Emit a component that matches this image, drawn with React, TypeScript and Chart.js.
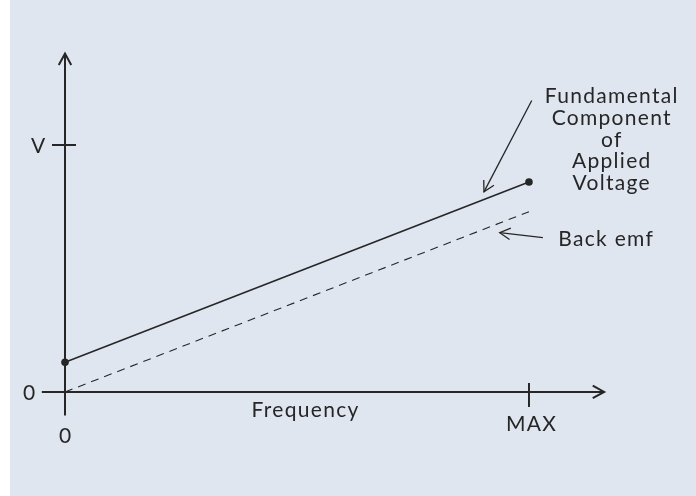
import React, { useEffect, useRef } from "react";
import { Chart, registerables } from "chart.js";

Chart.register(...registerables);

const frequency = [0, 1]; // 0 .. MAX
const appliedVoltage = [0.12, 0.85];
const backEmf = [0, 0.73];
const xTickValues = [0, 1];
const xTickLabels = ["0", "MAX"];
const yTickValues = [0, 1];
const yTickLabels = ["0", "V"];
const xAxisTitle = "Frequency";
const appliedLabel = ["Fundamental", "Component", "of", "Applied", "Voltage"];
const backEmfLabel = "Back emf";

const INK = "#262626";
const BG = "#e0e6f0";
const FONT = "21px Lato, 'Open Sans', sans-serif";

function arrowHead(ctx: CanvasRenderingContext2D, x1: number, y1: number, x2: number, y2: number, len: number) {
  const a = Math.atan2(y2 - y1, x2 - x1);
  const s = 0.5;
  ctx.beginPath();
  ctx.moveTo(x2 - len * Math.cos(a - s), y2 - len * Math.sin(a - s));
  ctx.lineTo(x2, y2);
  ctx.lineTo(x2 - len * Math.cos(a + s), y2 - len * Math.sin(a + s));
  ctx.stroke();
}

function line(ctx: CanvasRenderingContext2D, x1: number, y1: number, x2: number, y2: number) {
  ctx.beginPath();
  ctx.moveTo(x1, y1);
  ctx.lineTo(x2, y2);
  ctx.stroke();
}

const bgPlugin = {
  id: "bg",
  beforeDraw(chart: any) {
    const ctx = chart.ctx;
    ctx.save();
    ctx.fillStyle = "#ffffff";
    ctx.fillRect(0, 0, chart.width, chart.height);
    ctx.fillStyle = BG;
    ctx.fillRect(10, 0, chart.width - 10, chart.height);
    ctx.restore();
  },
};

const axesPlugin = {
  id: "axesDiagram",
  afterDatasetsDraw(chart: any) {
    const ctx: any = chart.ctx;
    const xs = chart.scales.x;
    const ys = chart.scales.y;
    const x0 = xs.getPixelForValue(0);
    const y0 = ys.getPixelForValue(0);
    ctx.save();
    ctx.strokeStyle = INK;
    ctx.fillStyle = INK;
    ctx.lineWidth = 2;
    ctx.lineCap = "butt";
    // y axis
    const yTop = ys.getPixelForValue(1.37);
    const yBot = ys.getPixelForValue(-0.095);
    line(ctx, x0, yBot, x0, yTop);
    arrowHead(ctx, x0, yBot, x0, yTop, 13);
    // x axis
    const xLeft = xs.getPixelForValue(-0.05);
    const xRight = xs.getPixelForValue(1.162);
    line(ctx, xLeft, y0, xRight, y0);
    arrowHead(ctx, xLeft, y0, xRight, y0, 13);

    ctx.font = FONT;
    ctx.letterSpacing = "1.3px";
    ctx.textAlign = "center";
    ctx.textBaseline = "middle";
    const text = (t: string, x: number, y: number) => ctx.fillText(t, x + 0.7, y);
    // y ticks
    yTickValues.forEach((v, i) => {
      const py = ys.getPixelForValue(v);
      if (v !== 0) line(ctx, x0 - 13, py, x0 + 11, py);
      text(yTickLabels[i], v === 0 ? x0 - 36 : x0 - 27, py + 1);
    });
    // x ticks
    xTickValues.forEach((v, i) => {
      const px = xs.getPixelForValue(v);
      if (v !== 0) line(ctx, px, y0 - 9, px, y0 + 15);
      text(xTickLabels[i], px + (v !== 0 ? 2 : 0), v === 0 ? y0 + 44 : y0 + 32);
    });
    text(xAxisTitle, xs.getPixelForValue(0.517), y0 + 18);

    // annotations
    ctx.lineWidth = 1.3;
    const fx = xs.getPixelForValue(1.177);
    const fyTop = ys.getPixelForValue(1.197);
    appliedLabel.forEach((t, i) => text(t, fx, fyTop + i * 21.8));
    const ax1 = xs.getPixelForValue(1.006), ay1 = ys.getPixelForValue(1.18);
    const ax2 = xs.getPixelForValue(0.903), ay2 = ys.getPixelForValue(0.81);
    line(ctx, ax1, ay1, ax2, ay2);
    arrowHead(ctx, ax1, ay1, ax2, ay2, 12);

    text(backEmfLabel, xs.getPixelForValue(1.165), ys.getPixelForValue(0.62));
    const bx1 = xs.getPixelForValue(1.03), by1 = ys.getPixelForValue(0.625);
    const bx2 = xs.getPixelForValue(0.937), by2 = ys.getPixelForValue(0.645);
    line(ctx, bx1, by1, bx2, by2);
    arrowHead(ctx, bx1, by1, bx2, by2, 12);
    ctx.restore();
  },
};

export default function App() {
  const ref = useRef<HTMLCanvasElement | null>(null);
  useEffect(() => {
    if (!ref.current) return;
    const chart = new Chart(ref.current, {
      type: "scatter",
      data: {
        datasets: [
          {
            label: "Fundamental Component of Applied Voltage",
            data: frequency.map((f, i) => ({ x: f, y: appliedVoltage[i] })),
            showLine: true,
            borderColor: INK,
            backgroundColor: INK,
            borderWidth: 1.6,
            pointRadius: 3.8,
            pointBackgroundColor: INK,
            pointBorderWidth: 0,
          },
          {
            label: "Back emf",
            data: frequency.map((f, i) => ({ x: f, y: backEmf[i] })),
            showLine: true,
            borderColor: INK,
            borderWidth: 1.1,
            borderDash: [8, 6],
            pointRadius: 0,
          },
        ],
      },
      options: {
        animation: false,
        responsive: false,
        maintainAspectRatio: false,
        layout: { padding: 0, autoPadding: false },
        plugins: { legend: { display: false }, tooltip: { enabled: false } },
        scales: {
          x: { type: "linear", display: false, min: -0.1401, max: 1.36 },
          y: { type: "linear", display: false, min: -0.4212, max: 1.587 },
        },
      },
      plugins: [bgPlugin, axesPlugin],
    });
    return () => chart.destroy();
  }, []);
  return (
    <div style={{ position: "fixed", left: 0, top: 0, width: 696, height: 496 }}>
      <canvas ref={ref} width={696} height={496} style={{ width: 696, height: 496, display: "block" }} />
    </div>
  );
}
